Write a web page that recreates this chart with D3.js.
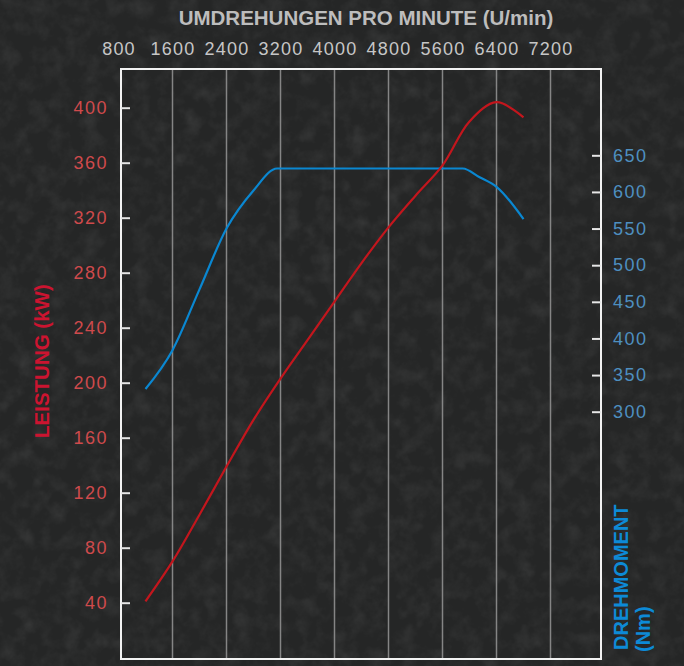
<!DOCTYPE html>
<html>
<head>
<meta charset="utf-8">
<script src="https://cdn.jsdelivr.net/npm/d3@7"></script>
<style>
  html, body { margin: 0; padding: 0; background: #222; }
  svg { display: block; }
</style>
</head>
<body>
<div id="chart"></div>
<script>
// engine curves
const rpmTicks = [800, 1600, 2400, 3200, 4000, 4800, 5600, 6400, 7200];
const powerTicks = [40, 80, 120, 160, 200, 240, 280, 320, 360, 400];
const torqueTicks = [300, 350, 400, 450, 500, 550, 600, 650];

const powerRpm = [1200, 1600, 2000, 2400, 2800, 3200, 3600, 4000, 4400, 4800, 5200, 5600, 6000, 6400, 6800];
const powerKw = [41, 70, 104, 139, 173, 203, 231, 259, 287, 313, 336, 358, 390, 404, 393];

const torqueRpm = [1200, 1600, 2000, 2400, 2800, 3150, 5900, 6150, 6400, 6800];
const torqueNm = [331, 384, 467, 550, 602, 632, 632, 620, 607, 563];

const width = 684;
const height = 666;

const frame = { left: 121, top: 69, right: 601, bottom: 659 };

const svg = d3.select('#chart')
  .append('svg')
  .attr('width', width)
  .attr('height', height);

// textured dark background
const defs = svg.append('defs');
const noise = defs.append('filter').attr('id', 'grain')
  .attr('x', 0).attr('y', 0).attr('width', '100%').attr('height', '100%');
noise.append('feTurbulence')
  .attr('type', 'fractalNoise')
  .attr('baseFrequency', 0.06)
  .attr('numOctaves', 4)
  .attr('seed', 7);
noise.append('feColorMatrix')
  .attr('type', 'matrix')
  .attr('values', '0 0 0 0 0.5  0 0 0 0 0.5  0 0 0 0 0.5  0.9 0.9 0.9 0 -1.2');

svg.append('rect').attr('width', width).attr('height', height).attr('fill', '#252626');
svg.append('rect').attr('width', width).attr('height', height)
  .attr('filter', 'url(#grain)').attr('opacity', 0.12);

const xScale = d3.scaleLinear().domain([800, 8000]).range([118.5, 604.5]);
const yPower = d3.scaleLinear().domain([0, 400]).range([657.7, 107.7]);
const yTorque = d3.scaleLinear().domain([300, 650]).range([411.7, 155.3]);

// vertical gridlines
svg.append('g')
  .selectAll('line')
  .data(rpmTicks.slice(1))
  .join('line')
  .attr('x1', (d) => xScale(d))
  .attr('x2', (d) => xScale(d))
  .attr('y1', frame.top)
  .attr('y2', frame.bottom)
  .attr('stroke', '#858585')
  .attr('stroke-width', 1.5);

// frame
svg.append('rect')
  .attr('x', frame.left)
  .attr('y', frame.top)
  .attr('width', frame.right - frame.left)
  .attr('height', frame.bottom - frame.top)
  .attr('fill', 'none')
  .attr('stroke', '#f2f2f2')
  .attr('stroke-width', 2);

const tickFont = 'Liberation Sans, Arial, sans-serif';
const fmt = d3.format('d');

// top axis
const topAxis = svg.append('g')
  .attr('transform', `translate(0, ${frame.top})`)
  .call(d3.axisTop(xScale).tickValues(rpmTicks).tickFormat(fmt).tickSize(0).tickPadding(14));
topAxis.select('.domain').remove();
topAxis.selectAll('text')
  .attr('fill', '#c6c6c6')
  .style('font-family', tickFont)
  .style('font-size', '18px')
  .style('letter-spacing', '1.2px');

// left axis (power)
const leftAxis = svg.append('g')
  .attr('transform', `translate(${frame.left}, 0)`)
  .call(d3.axisLeft(yPower).tickValues(powerTicks).tickFormat(fmt).tickSize(-9).tickPadding(13));
leftAxis.select('.domain').remove();
leftAxis.selectAll('line').attr('stroke', '#e6e6e6').attr('stroke-width', 2);
leftAxis.selectAll('text')
  .attr('fill', '#cf4a4c')
  .style('font-family', tickFont)
  .style('font-size', '18px')
  .style('letter-spacing', '1.5px');

// right axis (torque)
const rightAxis = svg.append('g')
  .attr('transform', `translate(${frame.right}, 0)`)
  .call(d3.axisRight(yTorque).tickValues(torqueTicks).tickFormat(fmt).tickSize(-9).tickPadding(12));
rightAxis.select('.domain').remove();
rightAxis.selectAll('line').attr('stroke', '#e6e6e6').attr('stroke-width', 2);
rightAxis.selectAll('text')
  .attr('fill', '#4e8fc0')
  .style('font-family', tickFont)
  .style('font-size', '18px')
  .style('letter-spacing', '1.5px');

// titles
svg.append('text')
  .attr('x', 366)
  .attr('y', 25)
  .attr('text-anchor', 'middle')
  .attr('fill', '#bdbdbd')
  .style('font-family', tickFont)
  .style('font-weight', 'bold')
  .style('font-size', '20.5px')
  .text('UMDREHUNGEN PRO MINUTE (U/min)');

svg.append('text')
  .attr('transform', 'translate(49, 438) rotate(-90)')
  .attr('fill', '#cc1430')
  .style('font-family', tickFont)
  .style('font-weight', 'bold')
  .style('font-size', '20.5px')
  .text('LEISTUNG (kW)');

svg.append('text')
  .attr('transform', 'translate(628, 650) rotate(-90)')
  .attr('fill', '#0d8ad6')
  .style('font-family', tickFont)
  .style('font-weight', 'bold')
  .style('font-size', '20px')
  .text('DREHMOMENT');

svg.append('text')
  .attr('transform', 'translate(650, 652) rotate(-90)')
  .attr('fill', '#0d8ad6')
  .style('font-family', tickFont)
  .style('font-weight', 'bold')
  .style('font-size', '20px')
  .text('(Nm)');

// curves
const powerLine = d3.line()
  .x((d, i) => xScale(powerRpm[i]))
  .y((d) => yPower(d))
  .curve(d3.curveCatmullRom.alpha(0.5));

const torqueLine = d3.line()
  .x((d, i) => xScale(torqueRpm[i]))
  .y((d) => yTorque(d))
  .curve(d3.curveMonotoneX);

svg.append('path')
  .attr('d', torqueLine(torqueNm))
  .attr('fill', 'none')
  .attr('stroke', '#0a87d1')
  .attr('stroke-width', 2.2);

svg.append('path')
  .attr('d', powerLine(powerKw))
  .attr('fill', 'none')
  .attr('stroke', '#c3161d')
  .attr('stroke-width', 2.2);
</script>
</body>
</html>
